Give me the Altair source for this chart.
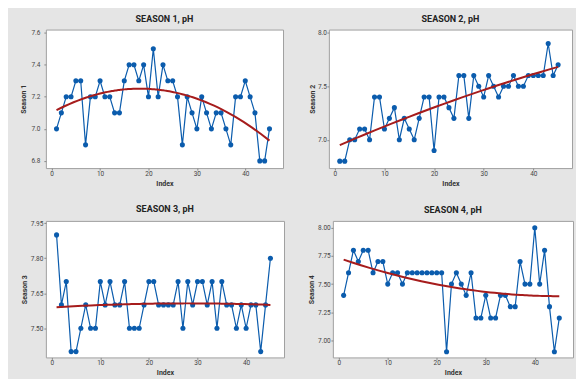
import altair as alt
import pandas as pd

index = list(range(1, 46))

season1 = [7.0, 7.1, 7.2, 7.2, 7.3, 7.3, 6.9, 7.2, 7.2, 7.3,
           7.2, 7.2, 7.1, 7.1, 7.3, 7.4, 7.4, 7.3, 7.4, 7.2,
           7.5, 7.2, 7.4, 7.3, 7.3, 7.2, 6.9, 7.2, 7.1, 7.0,
           7.2, 7.1, 7.0, 7.1, 7.1, 7.0, 6.9, 7.2, 7.2, 7.3,
           7.2, 7.1, 6.8, 6.8, 7.0]
season2 = [6.8, 6.8, 7.0, 7.0, 7.1, 7.1, 7.0, 7.4, 7.4, 7.1,
           7.2, 7.3, 7.0, 7.2, 7.1, 7.0, 7.2, 7.4, 7.4, 6.9,
           7.4, 7.4, 7.3, 7.2, 7.6, 7.6, 7.2, 7.6, 7.5, 7.4,
           7.6, 7.5, 7.4, 7.5, 7.5, 7.6, 7.5, 7.5, 7.6, 7.6,
           7.6, 7.6, 7.9, 7.6, 7.7]
season3 = [7.9, 7.6, 7.7, 7.4, 7.4, 7.5, 7.6, 7.5, 7.5, 7.7,
           7.6, 7.7, 7.6, 7.6, 7.7, 7.5, 7.5, 7.5, 7.6, 7.7,
           7.7, 7.6, 7.6, 7.6, 7.6, 7.7, 7.5, 7.7, 7.6, 7.7,
           7.7, 7.6, 7.7, 7.5, 7.7, 7.6, 7.6, 7.5, 7.6, 7.5,
           7.6, 7.6, 7.4, 7.6, 7.8]
season4 = [7.4, 7.6, 7.8, 7.7, 7.8, 7.8, 7.6, 7.7, 7.7, 7.5,
           7.6, 7.6, 7.5, 7.6, 7.6, 7.6, 7.6, 7.6, 7.6, 7.6,
           7.6, 6.9, 7.5, 7.6, 7.5, 7.4, 7.6, 7.2, 7.2, 7.4,
           7.2, 7.2, 7.4, 7.4, 7.3, 7.3, 7.7, 7.5, 7.5, 8.0,
           7.5, 7.8, 7.3, 6.9, 7.2]

series = [season1, season2, season3, season4]
titles = ["SEASON 1, pH", "SEASON 2, pH", "SEASON 3, pH", "SEASON 4, pH"]
ytitles = ["Season 1", "Season 2", "Season 3", "Season 4"]
ydomains = [[6.755, 7.62], [6.735, 8.03], [7.375, 7.96], [6.85, 8.06]]
yticks = [[6.8, 7.0, 7.2, 7.4, 7.6], [7.0, 7.5, 8.0],
          [7.50, 7.65, 7.80, 7.95], [7.00, 7.25, 7.50, 7.75, 8.00]]
yformats = [".1f", ".1f", ".2f", ".2f"]
xticks = [0, 10, 20, 30, 40]

BLUE = "#0b5cad"
RED = "#a61c1c"
FONT = "Roboto"
widths = [238, 244, 239, 241]
heights = [139, 139, 137, 137]
ylabelpad = [4.0, 0.5, 1.0, 0.7]
yextent = [17.2, 11.6, 16.8, 16.2]


def panel(i):
    df = pd.DataFrame({"Index": index, "value": series[i]})
    base = alt.Chart(df)
    x = alt.X("Index:Q",
              scale=alt.Scale(domain=[-1.2, 47.8], nice=False, zero=False),
              axis=alt.Axis(values=xticks, title="Index", format="d",
                            minExtent=9, maxExtent=9, labelPadding=0.5))
    y = alt.Y("value:Q",
              scale=alt.Scale(domain=ydomains[i], nice=False, zero=False),
              axis=alt.Axis(values=yticks[i], format=yformats[i], title=ytitles[i],
                            labelPadding=ylabelpad[i],
                            minExtent=yextent[i], maxExtent=yextent[i]))
    line = base.mark_line(color=BLUE, strokeWidth=1.2).encode(x=x, y=y)
    pts = base.mark_circle(color=BLUE, size=26, opacity=1).encode(x=x, y=y)
    fit = (base.transform_regression("Index", "value", method="poly", order=2,
                                     extent=[1, 45])
           .mark_line(color=RED, strokeWidth=2).encode(x=x, y=y))
    return alt.layer(line, pts, fit).properties(
        width=widths[i], height=heights[i],
        title=alt.TitleParams(titles[i], fontSize=9, font=FONT,
                              fontWeight="bold", color="#222", offset=6))


top = alt.hconcat(panel(0), panel(1), spacing=23)
bottom = alt.hconcat(panel(2), panel(3), spacing=22)
chart = alt.vconcat(top, bottom, spacing=17).properties(
    background="#e5e5e5",
    padding={"left": 11, "top": 5, "right": 2, "bottom": 2},
).configure_view(
    fill="white", stroke="#a0a0a0", strokeWidth=1
).configure_axis(
    grid=False, domain=False, tickColor="#888", tickSize=2,
    labelFont=FONT, labelFontSize=6.5, labelColor="#444",
    titleFont=FONT, titleFontSize=7, titleFontWeight="bold",
    titleColor="#333", titlePadding=2,
)

chart.save("out.html", embed_options={"renderer": "svg", "actions": False})
